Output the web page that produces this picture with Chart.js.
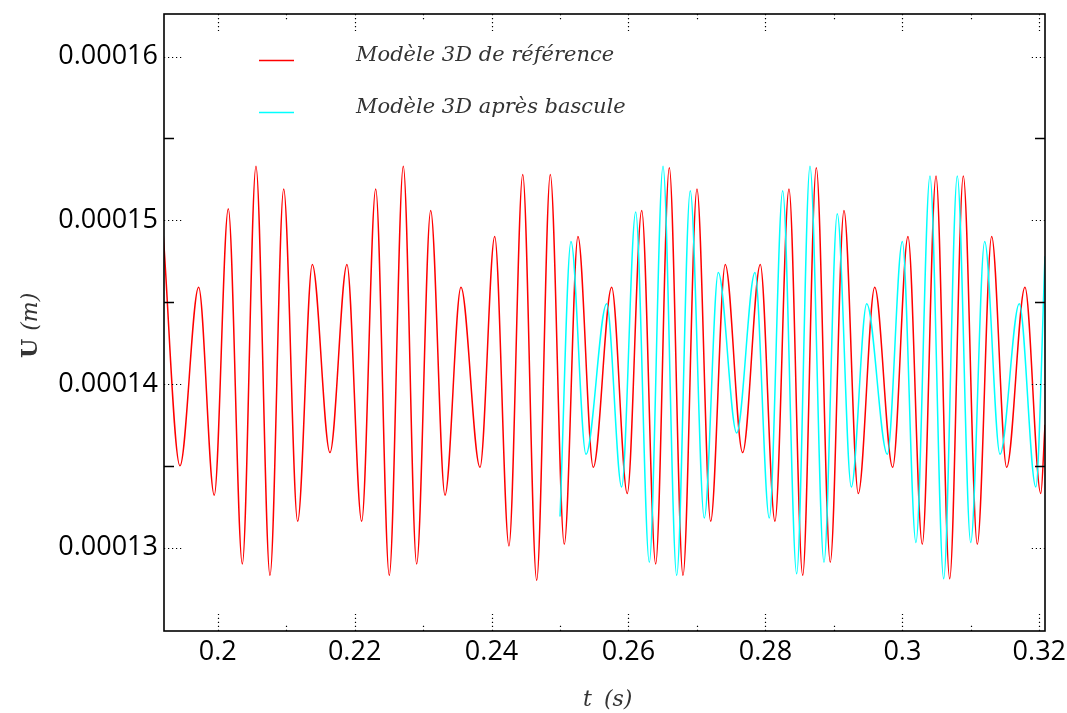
<!DOCTYPE html>
<html lang="fr">
<head>
<meta charset="utf-8">
<title>U(t)</title>
<style>
  html, body { margin: 0; padding: 0; background: #fff; }
  #chart { display: block; }
</style>
</head>
<body>
<canvas id="chart" width="1067" height="713"></canvas>
<script src="https://cdn.jsdelivr.net/npm/chart.js@4.4.1/dist/chart.umd.min.js"></script>
<script>
// extrema (t in s, U in m)
const redT = [0.19205, 0.19449, 0.19722, 0.19950, 0.20155, 0.20360, 0.20559, 0.20764, 0.20964, 0.21168,
  0.21382, 0.21640, 0.21888, 0.22103, 0.22308, 0.22506, 0.22711, 0.22906, 0.23111, 0.23320,
  0.23553, 0.23831, 0.24046, 0.24254, 0.24455, 0.24659, 0.24858, 0.25062, 0.25262, 0.25486,
  0.25754, 0.25982, 0.26193, 0.26397, 0.26596, 0.26796, 0.27000, 0.27200, 0.27413, 0.27667,
  0.27925, 0.28139, 0.28344, 0.28544, 0.28743, 0.28947, 0.29147, 0.29356, 0.29596, 0.29858,
  0.30082, 0.30291, 0.30491, 0.30691, 0.30890, 0.31094, 0.31304, 0.31523, 0.31790, 0.32022, 0.32083];
const redU = [0.0001491, 0.0001350, 0.0001459, 0.0001332, 0.0001507, 0.0001290, 0.0001533, 0.0001283, 0.0001519, 0.0001316,
  0.0001473, 0.0001358, 0.0001473, 0.0001316, 0.0001519, 0.0001283, 0.0001533, 0.0001290, 0.0001506, 0.0001332,
  0.0001459, 0.0001349, 0.0001490, 0.0001301, 0.0001528, 0.0001280, 0.0001528, 0.0001302, 0.0001490, 0.0001349,
  0.0001459, 0.0001333, 0.0001506, 0.0001290, 0.0001532, 0.0001283, 0.0001519, 0.0001316, 0.0001473, 0.0001358,
  0.0001473, 0.0001316, 0.0001519, 0.0001283, 0.0001532, 0.0001291, 0.0001506, 0.0001333, 0.0001459, 0.0001349,
  0.0001490, 0.0001302, 0.0001527, 0.0001281, 0.0001527, 0.0001302, 0.0001490, 0.0001349, 0.0001459, 0.0001333, 0.0001375];

const cyanT = [0.25000, 0.25160, 0.25379, 0.25681, 0.25900, 0.26105, 0.26304, 0.26504, 0.26704, 0.26902,
  0.27107, 0.27311, 0.27580, 0.27847, 0.28056, 0.28252, 0.28456, 0.28651, 0.28855, 0.29049,
  0.29254, 0.29479, 0.29780, 0.29999, 0.30198, 0.30403, 0.30603, 0.30802, 0.30998, 0.31202,
  0.31426, 0.31707, 0.31949, 0.32083];
const cyanU = [0.0001319, 0.0001487, 0.0001357, 0.0001449, 0.0001337, 0.0001505, 0.0001291, 0.0001533, 0.0001283, 0.0001518,
  0.0001318, 0.0001468, 0.0001370, 0.0001468, 0.0001318, 0.0001518, 0.0001284, 0.0001533, 0.0001291, 0.0001504,
  0.0001337, 0.0001449, 0.0001357, 0.0001487, 0.0001303, 0.0001527, 0.0001281, 0.0001527, 0.0001303, 0.0001487,
  0.0001357, 0.0001449, 0.0001337, 0.0001478];

const seriesNames = ["Modèle 3D de référence", "Modèle 3D après bascule"];
const seriesColors = ["#ff0000", "#00ffff"];
const xRange = [0.19216, 0.32083];
const yRange = [0.0001249, 0.0001626];

const toPoints = (ts, us) => ts.map((t, i) => ({ x: t, y: us[i] }));

const serif = "'DejaVu Serif', serif";

// frame, inward ticks, legend and axis titles
const decorations = {
  id: "decorations",
  afterDraw(chart) {
    const { ctx, chartArea: a, scales: { x, y } } = chart;
    ctx.save();
    ctx.strokeStyle = "#000";

    const xv = x.ticks.map(t => t.value);
    const yv = y.ticks.map(t => t.value);
    const mid = (v) => v.slice(1).map((w, i) => (w + v[i]) / 2);

    // major ticks, dotted
    ctx.lineWidth = 1.2;
    ctx.setLineDash([1.2, 2.8]);
    ctx.beginPath();
    xv.forEach(v => {
      const px = Math.round(x.getPixelForValue(v)) + 0.5;
      ctx.moveTo(px, a.bottom); ctx.lineTo(px, a.bottom - 17);
      ctx.moveTo(px, a.top); ctx.lineTo(px, a.top + 17);
    });
    yv.forEach(v => {
      const py = Math.round(y.getPixelForValue(v)) + 0.5;
      ctx.moveTo(a.left, py); ctx.lineTo(a.left + 18, py);
      ctx.moveTo(a.right, py); ctx.lineTo(a.right - 16, py);
    });
    // minor x ticks, a dot or two
    mid(xv).forEach(v => {
      const px = Math.round(x.getPixelForValue(v)) + 0.5;
      ctx.moveTo(px, a.bottom); ctx.lineTo(px, a.bottom - 6);
      ctx.moveTo(px, a.top); ctx.lineTo(px, a.top + 6);
    });
    ctx.stroke();

    // minor y ticks, solid
    ctx.setLineDash([]);
    ctx.lineWidth = 1.3;
    ctx.beginPath();
    mid(yv).forEach(v => {
      const py = Math.round(y.getPixelForValue(v)) + 0.5;
      ctx.moveTo(a.left, py); ctx.lineTo(a.left + 10, py);
      ctx.moveTo(a.right, py); ctx.lineTo(a.right - 10, py);
    });
    ctx.stroke();

    // frame
    ctx.lineWidth = 1.6;
    ctx.strokeRect(a.left, a.top, a.right - a.left, a.bottom - a.top);

    // legend
    ctx.font = "italic 21px " + serif;
    ctx.textAlign = "left";
    ctx.textBaseline = "alphabetic";
    const rows = [60.5, 112.5];
    seriesNames.forEach((name, i) => {
      ctx.strokeStyle = seriesColors[i];
      ctx.lineWidth = 1.5;
      ctx.beginPath();
      ctx.moveTo(259, rows[i]); ctx.lineTo(294, rows[i]);
      ctx.stroke();
      ctx.fillStyle = "#333";
      ctx.fillText(name, 356, rows[i]);
    });

    // x title
    ctx.fillStyle = "#333";
    ctx.font = "italic 22px " + serif;
    ctx.fillText("t", 583, 706);
    ctx.fillText("(s)", 604, 706);

    // y title
    ctx.translate(37, 358);
    ctx.rotate(-Math.PI / 2);
    ctx.font = "bold 22px " + serif;
    ctx.fillText("U", 0, 0);
    const w = ctx.measureText("U").width;
    ctx.font = "italic 22px " + serif;
    ctx.fillText("(m)", w + 8, 0);
    ctx.restore();
  }
};

Chart.defaults.font.family = "'Open Sans', sans-serif";

new Chart(document.getElementById("chart"), {
  type: "line",
  data: {
    datasets: [
      {
        label: seriesNames[0],
        data: toPoints(redT, redU),
        borderColor: seriesColors[0],
        borderWidth: 1.5,
        pointRadius: 0,
        cubicInterpolationMode: "monotone",
        fill: false,
        order: 1
      },
      {
        label: seriesNames[1],
        data: toPoints(cyanT, cyanU),
        borderColor: seriesColors[1],
        borderWidth: 1.5,
        pointRadius: 0,
        cubicInterpolationMode: "monotone",
        fill: false,
        order: 0
      }
    ]
  },
  options: {
    responsive: false,
    animation: false,
    layout: { autoPadding: false, padding: { top: 14, right: 22, left: 0, bottom: 0 } },
    plugins: {
      legend: { display: false },
      tooltip: { enabled: false }
    },
    scales: {
      x: {
        type: "linear",
        min: xRange[0],
        max: xRange[1],
        grid: { display: false, drawTicks: false },
        border: { display: false },
        ticks: {
          stepSize: 0.02,
          includeBounds: false,
          autoSkip: false,
          maxRotation: 0,
          padding: 5,
          color: "#000",
          font: { size: 27 },
          callback: (v) => String(+v.toFixed(2))
        },
        afterFit: (s) => { s.height = 82; s.paddingLeft = 0; s.paddingRight = 0; }
      },
      y: {
        type: "linear",
        min: yRange[0],
        max: yRange[1],
        grid: { display: false, drawTicks: false },
        border: { display: false },
        ticks: {
          stepSize: 0.00001,
          includeBounds: false,
          padding: 6,
          color: "#000",
          font: { size: 27 },
          callback: (v) => String(+v.toFixed(5))
        },
        afterFit: (s) => { s.width = 164; s.paddingTop = 0; s.paddingBottom = 0; }
      }
    }
  },
  plugins: [decorations]
});
</script>
</body>
</html>
